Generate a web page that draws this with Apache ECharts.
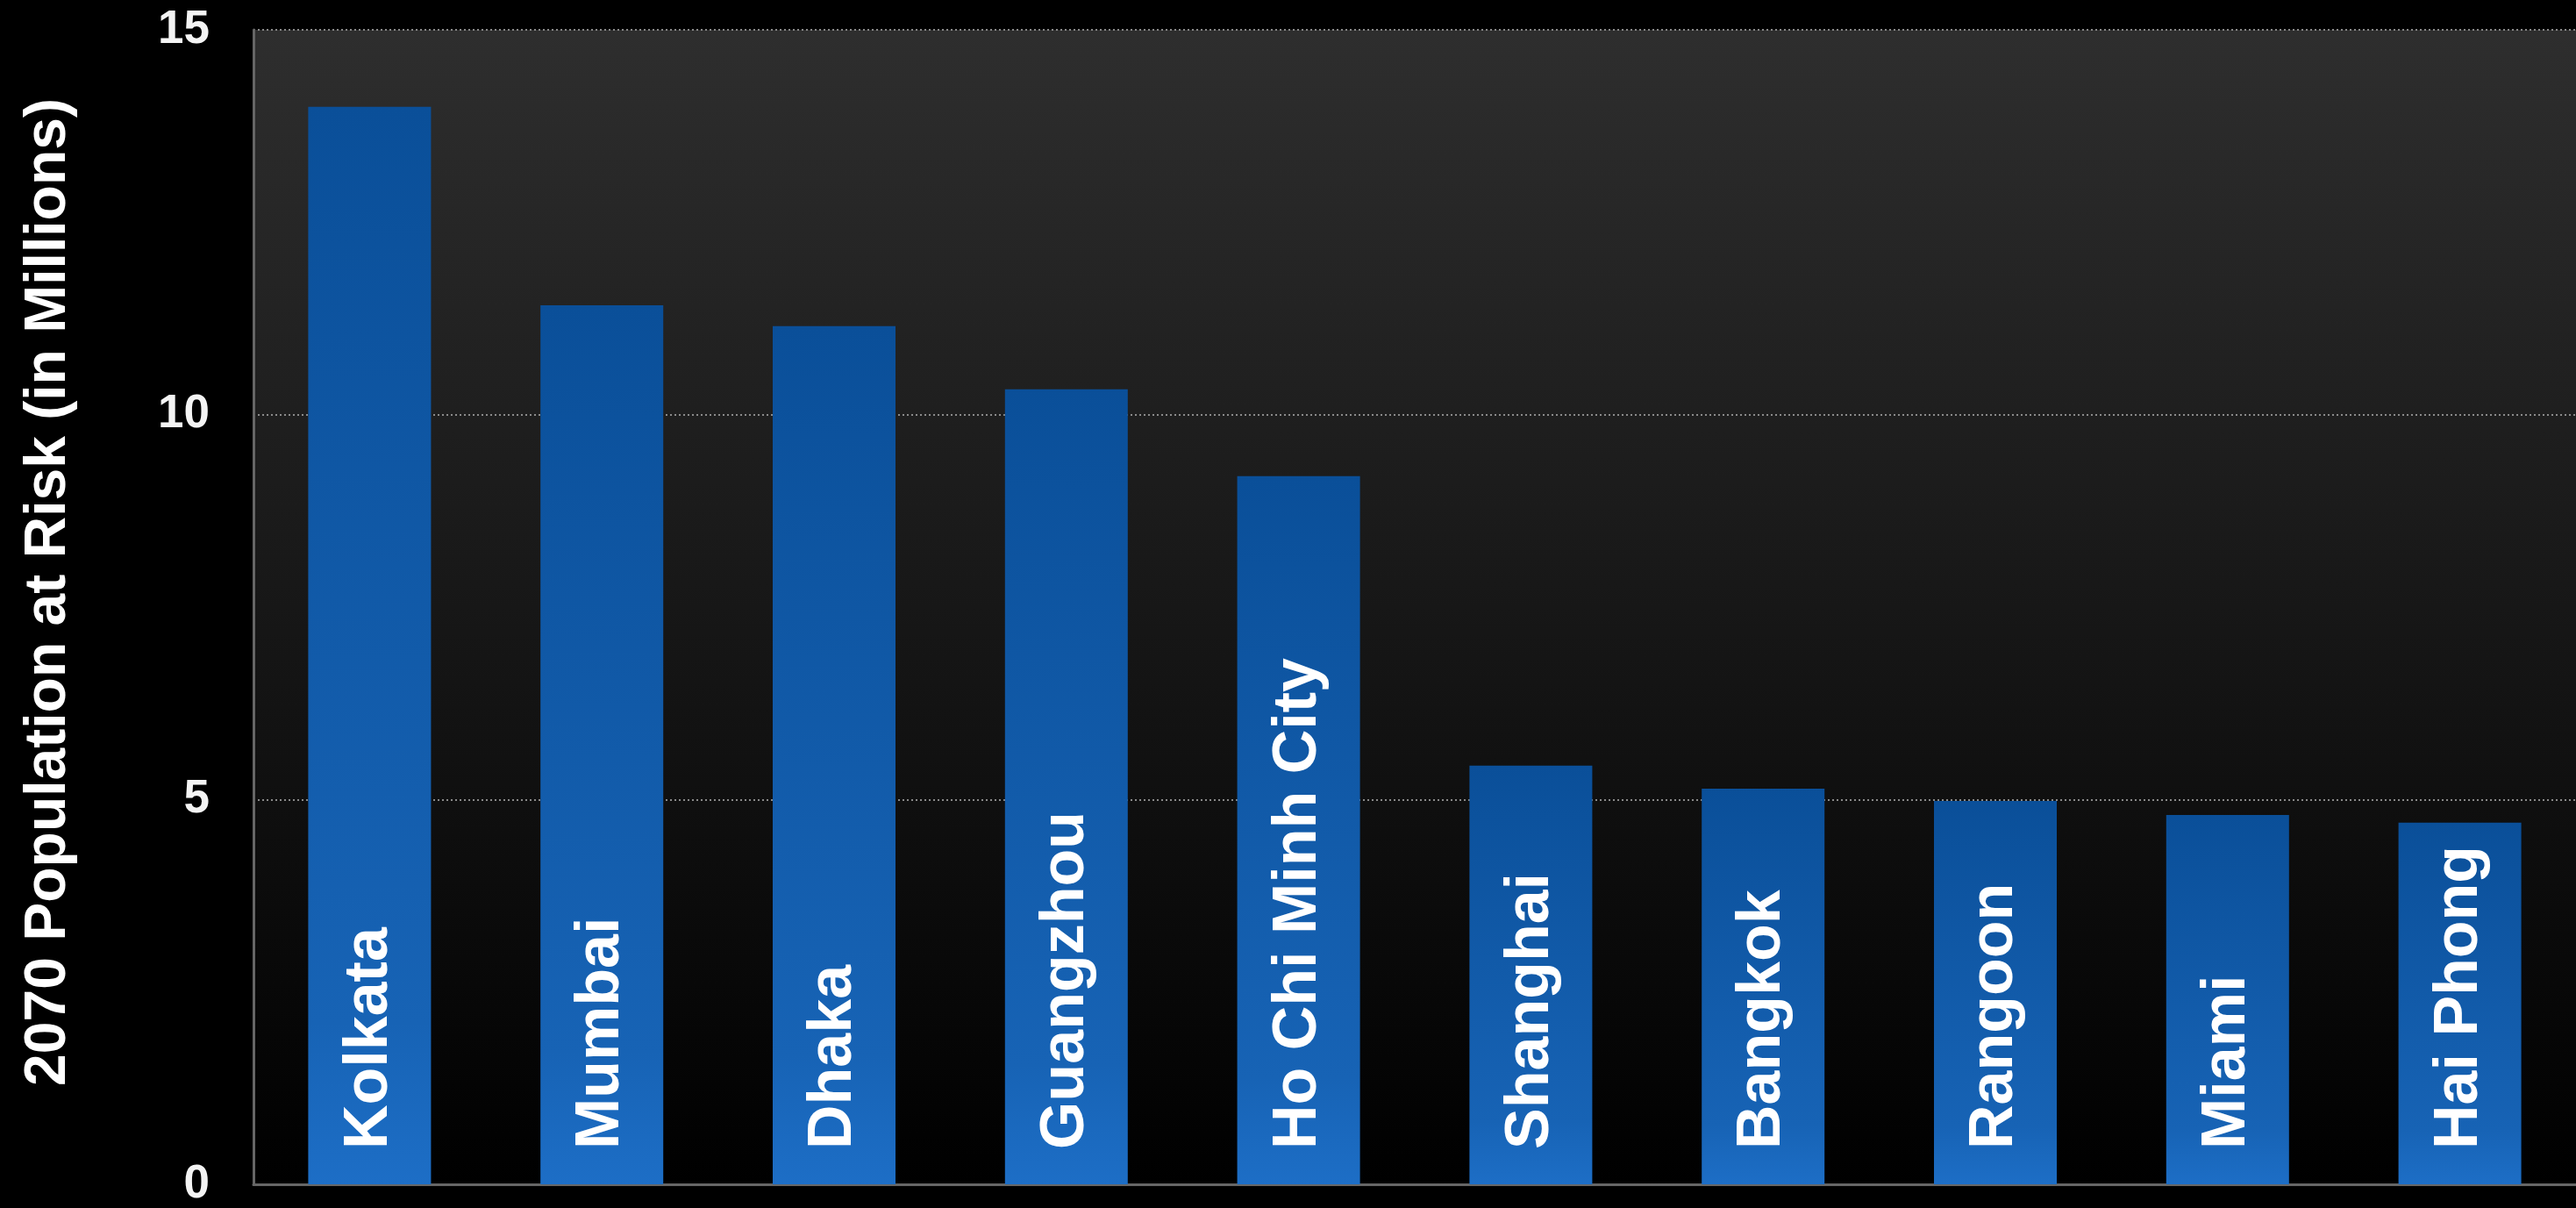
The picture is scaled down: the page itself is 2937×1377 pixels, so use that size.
<!DOCTYPE html>
<html>
<head>
<meta charset="utf-8">
<script src="https://cdn.jsdelivr.net/npm/echarts@6/dist/echarts.min.js"></script>
<style>
  html, body { margin: 0; padding: 0; background: #000; }
  #chart { width: 2937px; height: 1377px; }
</style>
</head>
<body>
<div id="chart"></div>
<script>
const cities = ["Kolkata", "Mumbai", "Dhaka", "Guangzhou", "Ho Chi Minh City", "Shanghai", "Bangkok", "Rangoon", "Miami", "Hai Phong"];
const populationAtRisk = [14.0, 11.42, 11.15, 10.33, 9.2, 5.44, 5.14, 4.98, 4.8, 4.7];
const yTicks = [0, 5, 10, 15];
const yAxisTitle = "2070 Population at Risk (in Millions)";

const chart = echarts.init(document.getElementById('chart'), null, { renderer: 'canvas' });
const FONT = '"Liberation Sans", Arial, Helvetica, sans-serif';

chart.setOption({
  backgroundColor: '#000000',
  animation: false,
  grid: {
    left: 289, right: 0, top: 34, bottom: 27,
    show: true,
    borderWidth: 0,
    backgroundColor: new echarts.graphic.LinearGradient(0, 0, 0, 1, [
      { offset: 0, color: '#2e2e2e' },
      { offset: 1, color: '#000000' }
    ])
  },
  xAxis: {
    type: 'category',
    data: cities,
    axisLine: { show: true, lineStyle: { color: '#666666', width: 3 } },
    axisTick: { show: false },
    axisLabel: { show: false },
    splitLine: { show: false }
  },
  yAxis: {
    type: 'value',
    min: yTicks[0],
    max: yTicks[yTicks.length - 1],
    interval: 5,
    name: yAxisTitle,
    nameLocation: 'middle',
    nameGap: 200,
    nameRotate: 90,
    nameTextStyle: {
      color: '#ffffff',
      fontFamily: FONT,
      fontWeight: 'bold',
      fontSize: 66,
      padding: [0, 0, 0, 34]
    },
    axisLine: { show: true, lineStyle: { color: '#666666', width: 3 } },
    axisTick: { show: false },
    axisLabel: {
      color: '#f4f4f4',
      fontFamily: FONT,
      fontWeight: 'bold',
      fontSize: 53,
      margin: 50
    },
    splitLine: {
      show: true,
      lineStyle: { color: '#8a8a8a', width: 2, type: [2, 3] }
    }
  },
  series: [{
    type: 'bar',
    data: populationAtRisk,
    barWidth: 140,
    itemStyle: {
      color: new echarts.graphic.LinearGradient(0, 0, 0, 1, [
        { offset: 0, color: '#0a4f99' },
        { offset: 0.85, color: '#1763b5' },
        { offset: 1, color: '#1d6ec6' }
      ])
    },
    label: {
      show: true,
      position: 'insideBottom',
      rotate: 90,
      align: 'left',
      verticalAlign: 'middle',
      distance: 40,
      formatter: '{b}',
      color: '#ffffff',
      fontFamily: FONT,
      fontWeight: 'bold',
      fontSize: 70
    }
  }]
});
</script>
</body>
</html>
